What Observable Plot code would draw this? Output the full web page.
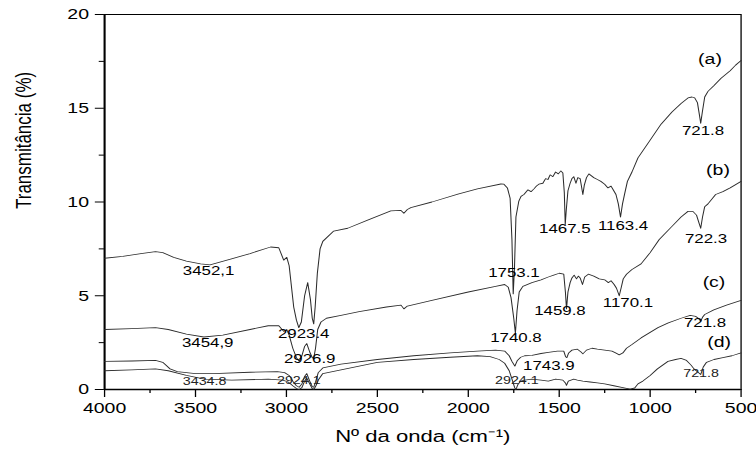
<!DOCTYPE html>
<html><head><meta charset="utf-8">
<script src="https://cdn.jsdelivr.net/npm/d3@7"></script>
<script src="https://cdn.jsdelivr.net/npm/@observablehq/plot@0.6"></script>
<style>
html,body{margin:0;padding:0;background:#fff;overflow:hidden}
#chart{width:756px;height:453px;overflow:hidden}
#chart svg{transform:scaleX(1.299);transform-origin:0 0;display:block}
</style></head><body><div id="chart"></div>
<script>
// ---- data (wavenumber cm-1, transmittance %) ----
const aWn = [4000,3900,3800,3720,3680,3620,3550,3472,3420,3307,3200,3087,3042,3015,2998,2985,2960,2945,2932,2918,
  2900,2883,2868,2858,2850,2842,2830,2815,2800,2740,2663,2550,2426,2370,2354,2335,2316,2200,2057,1950,
  1821,1804,1785,1770,1760,1753,1746,1738,1722,1710,1694,1672,1655,1639,1625,1612,1590,1575,1562,1550,
  1535,1520,1505,1491,1480,1472,1467,1461,1452,1440,1430,1420,1408,1398,1385,1377,1370,1362,1350,1337,
  1310,1290,1271,1250,1232,1215,1200,1188,1175,1163,1152,1140,1125,1100,1067,1000,940,880,830,792,
  770,755,740,730,722,713,700,682,650,610,560,530,500];
const aT = [7.0,7.1,7.25,7.35,7.3,7.05,6.85,6.7,6.65,6.95,7.25,7.6,7.56,6.9,7.05,6.6,4.4,3.7,3.3,3.6,
  5.0,5.7,4.8,3.8,3.5,4.4,6.2,7.5,7.9,8.45,8.6,9.05,9.53,9.55,9.4,9.6,9.7,10.0,10.42,10.7,
  10.96,10.95,10.75,10.2,8.0,5.1,6.5,9.2,10.05,10.3,10.4,10.65,10.55,10.7,10.85,10.95,11.0,11.25,11.2,11.45,
  11.35,11.6,11.5,11.66,11.55,10.5,8.8,9.6,10.6,11.0,11.25,11.35,11.0,11.3,11.25,10.8,10.4,10.9,11.3,11.5,
  11.3,11.2,11.1,10.95,10.75,10.85,10.6,10.4,9.9,9.2,9.9,10.45,11.1,11.6,12.35,13.3,14.15,14.8,15.25,15.55,
  15.6,15.55,15.3,14.7,14.2,14.8,15.6,15.9,16.2,16.6,17.0,17.3,17.55];

const bWn = [4000,3850,3720,3650,3550,3454,3350,3200,3100,3042,3015,2998,2985,2965,2945,2930,2915,2900,2888,2872,
  2858,2850,2840,2828,2810,2780,2700,2600,2450,2370,2354,2335,2200,2000,1850,1800,1780,1765,1750,1741,
  1732,1720,1700,1650,1600,1560,1530,1500,1475,1466,1460,1452,1440,1430,1418,1405,1395,1385,1372,1360,
  1340,1310,1280,1250,1230,1215,1198,1185,1170,1160,1148,1130,1100,1050,1000,950,880,830,792,765,
  745,732,722,712,700,682,640,600,560,500];
const bT = [3.2,3.25,3.3,3.2,2.95,2.8,2.9,3.2,3.4,3.4,3.1,3.2,2.9,2.2,1.7,1.5,1.8,2.3,2.45,2.0,
  1.7,1.65,2.2,3.2,3.6,3.8,3.95,4.15,4.4,4.5,4.3,4.45,4.75,5.2,5.5,5.6,5.45,4.9,3.8,3.0,
  4.2,5.2,5.5,5.7,5.85,6.0,6.1,6.2,6.15,5.2,4.3,5.2,5.7,5.95,6.1,5.9,6.05,5.95,5.6,6.0,
  6.15,6.05,5.9,5.85,5.7,5.8,5.6,5.4,5.0,5.4,5.9,6.15,6.4,6.7,7.3,8.0,8.7,9.2,9.5,9.5,
  9.3,8.9,8.6,9.2,9.75,9.9,10.4,10.55,10.75,11.1];

const cWn = [4000,3850,3720,3680,3640,3600,3500,3400,3200,3050,3010,2985,2962,2945,2930,2915,2900,2888,2872,2858,
  2850,2840,2825,2800,2700,2500,2300,2100,1950,1850,1800,1775,1760,1744,1730,1712,1690,1650,1600,1560,
  1510,1475,1465,1458,1448,1430,1400,1380,1370,1350,1320,1290,1250,1210,1190,1170,1150,1130,1100,1050,
  957,900,830,780,750,735,722,712,700,650,580,500];
const cT = [1.5,1.52,1.55,1.45,1.1,0.95,0.85,0.85,0.92,0.95,0.9,0.75,0.4,0.2,0.12,0.3,0.7,0.85,0.45,0.15,
  0.12,0.4,0.9,1.15,1.35,1.6,1.8,1.95,2.05,2.1,2.05,1.8,1.5,1.25,1.55,1.72,1.8,1.82,1.92,1.98,
  2.05,2.05,1.75,1.7,1.95,2.1,2.15,2.0,1.9,2.1,2.2,2.15,2.1,2.05,1.95,1.85,1.95,2.2,2.4,2.75,
  3.3,3.55,3.8,3.95,3.9,3.8,3.65,3.85,4.0,4.25,4.5,4.75];

const dWn = [4000,3850,3720,3650,3550,3450,3300,3100,3020,2990,2965,2945,2930,2915,2900,2888,2872,2858,2848,2838,
  2822,2800,2700,2500,2300,2100,1950,1880,1830,1800,1775,1758,1745,1738,1728,1712,1690,1650,1600,1560,
  1520,1480,1466,1460,1450,1420,1400,1370,1330,1290,1250,1200,1150,1110,1085,1067,1040,1000,960,902,
  860,830,800,775,759,740,722,708,690,649,600,550,500];
const dT = [1.0,1.05,1.1,1.0,0.75,0.55,0.5,0.55,0.5,0.4,0.2,0.05,0.0,0.1,0.45,0.6,0.3,0.05,0.02,0.2,
  0.55,0.85,1.05,1.45,1.6,1.72,1.8,1.75,1.6,1.4,1.0,0.5,0.1,0.0,0.25,0.45,0.5,0.55,0.5,0.45,
  0.55,0.5,0.35,0.22,0.45,0.55,0.5,0.45,0.4,0.35,0.3,0.2,0.1,0.02,0.08,0.3,0.45,0.75,1.1,1.5,
  1.6,1.66,1.55,1.3,1.1,0.95,0.8,1.2,1.45,1.6,1.7,1.8,1.95];

const seriesNames = ["(a)","(b)","(c)","(d)"];

// curve tags
const tagText = ["(a)","(b)","(c)","(d)"];
const tagWn   = [671,627,649,621];
const tagT    = [17.6,11.7,5.74,2.5];
// peak annotations
const labelText = ["721.8","1467.5","1163.4","3452,1","3454,9","2923.4","2926.9","1753.1","1740.8","1459.8","1170.1","722.3","721.8","1743.9"];
const labelWn   = [709,1469,1149,3428,3433,2905,2872,1749,1738,1496,1122,693,698,1557];
const labelT    = [13.8,8.56,8.72,6.33,2.5,2.97,1.64,6.22,2.76,4.19,4.62,8.03,3.56,1.26];
const smallText = ["3434.8","2924.1","2924.1","721.8"];
const smallWn   = [3450,2932,1733,720];
const smallT    = [0.41,0.46,0.46,0.84];

const xTicks = [4000,3500,3000,2500,2000,1500,1000,500];
const xMinor = [3750,3250,2750,2250,1750,1250,750];
const yTicks = [0,5,10,15,20];
const yMinor = [2.5,7.5,12.5,17.5];
const xTitle = "Nº da onda (cm⁻¹)";
const yTitle = "Transmitância (%)";

// ---- table ----
const rows = [];
[[aWn,aT],[bWn,bT],[cWn,cT],[dWn,dT]].forEach(([w,t],k) => {
  const n = Math.min(w.length, t.length);
  for (let i = 0; i < n; i++) rows.push({series: seriesNames[k], wn: w[i], t: t[i]});
});
const tags = tagText.map((s,i) => ({s, wn: tagWn[i], t: tagT[i]}));
const labels = labelText.map((s,i) => ({s, wn: labelWn[i], t: labelT[i]}));
const smalls = smallText.map((s,i) => ({s, wn: smallWn[i], t: smallT[i]}));

const chart = Plot.plot({
  width: 582, height: 453,
  marginLeft: 80, marginRight: 12, marginTop: 14, marginBottom: 64,
  style: {fontFamily: "'Liberation Sans', Arial, sans-serif", fontSize: "15px", color: "#000", background: "#fff"},
  x: {domain: [4000, 500]},
  y: {domain: [0, 20]},
  marks: [
    Plot.axisY(yTicks, {tickSize: 7, tickPadding: 5, label: null, tickFormat: d => String(d), fontSize: 15}),
    Plot.axisY(yMinor, {tickSize: 4, label: null, tickFormat: () => ""}),
    Plot.axisX(xTicks, {tickSize: 8, tickPadding: 5, label: null, tickFormat: d => String(d), fontSize: 15}),
    Plot.axisX(xMinor, {tickSize: 4, label: null, tickFormat: () => ""}),
    Plot.frame({stroke: "#000", strokeWidth: 1}),
    Plot.ruleX([4000], {stroke: "#000", strokeWidth: 1.5}),
    Plot.ruleY([0], {stroke: "#000", strokeWidth: 1.5}),
    Plot.line(rows, {x: "wn", y: "t", z: "series", stroke: "#2b2b2b", strokeWidth: 0.8}),
    Plot.text(tags, {x: "wn", y: "t", text: "s", fontSize: 15, fill: "#000"}),
    Plot.text(labels, {x: "wn", y: "t", text: "s", fontSize: 13, fill: "#000"}),
    Plot.text(smalls, {x: "wn", y: "t", text: "s", fontSize: 11, fill: "#222"}),
    Plot.text([yTitle], {text: d => d, frameAnchor: "left", dx: -62, dy: 7, rotate: -90, fontSize: 17, fill: "#000"}),
    Plot.text([xTitle], {text: d => d, frameAnchor: "bottom", dy: 52, fontSize: 17, fill: "#000"})
  ]
});
document.getElementById("chart").append(chart);
</script></body></html>
